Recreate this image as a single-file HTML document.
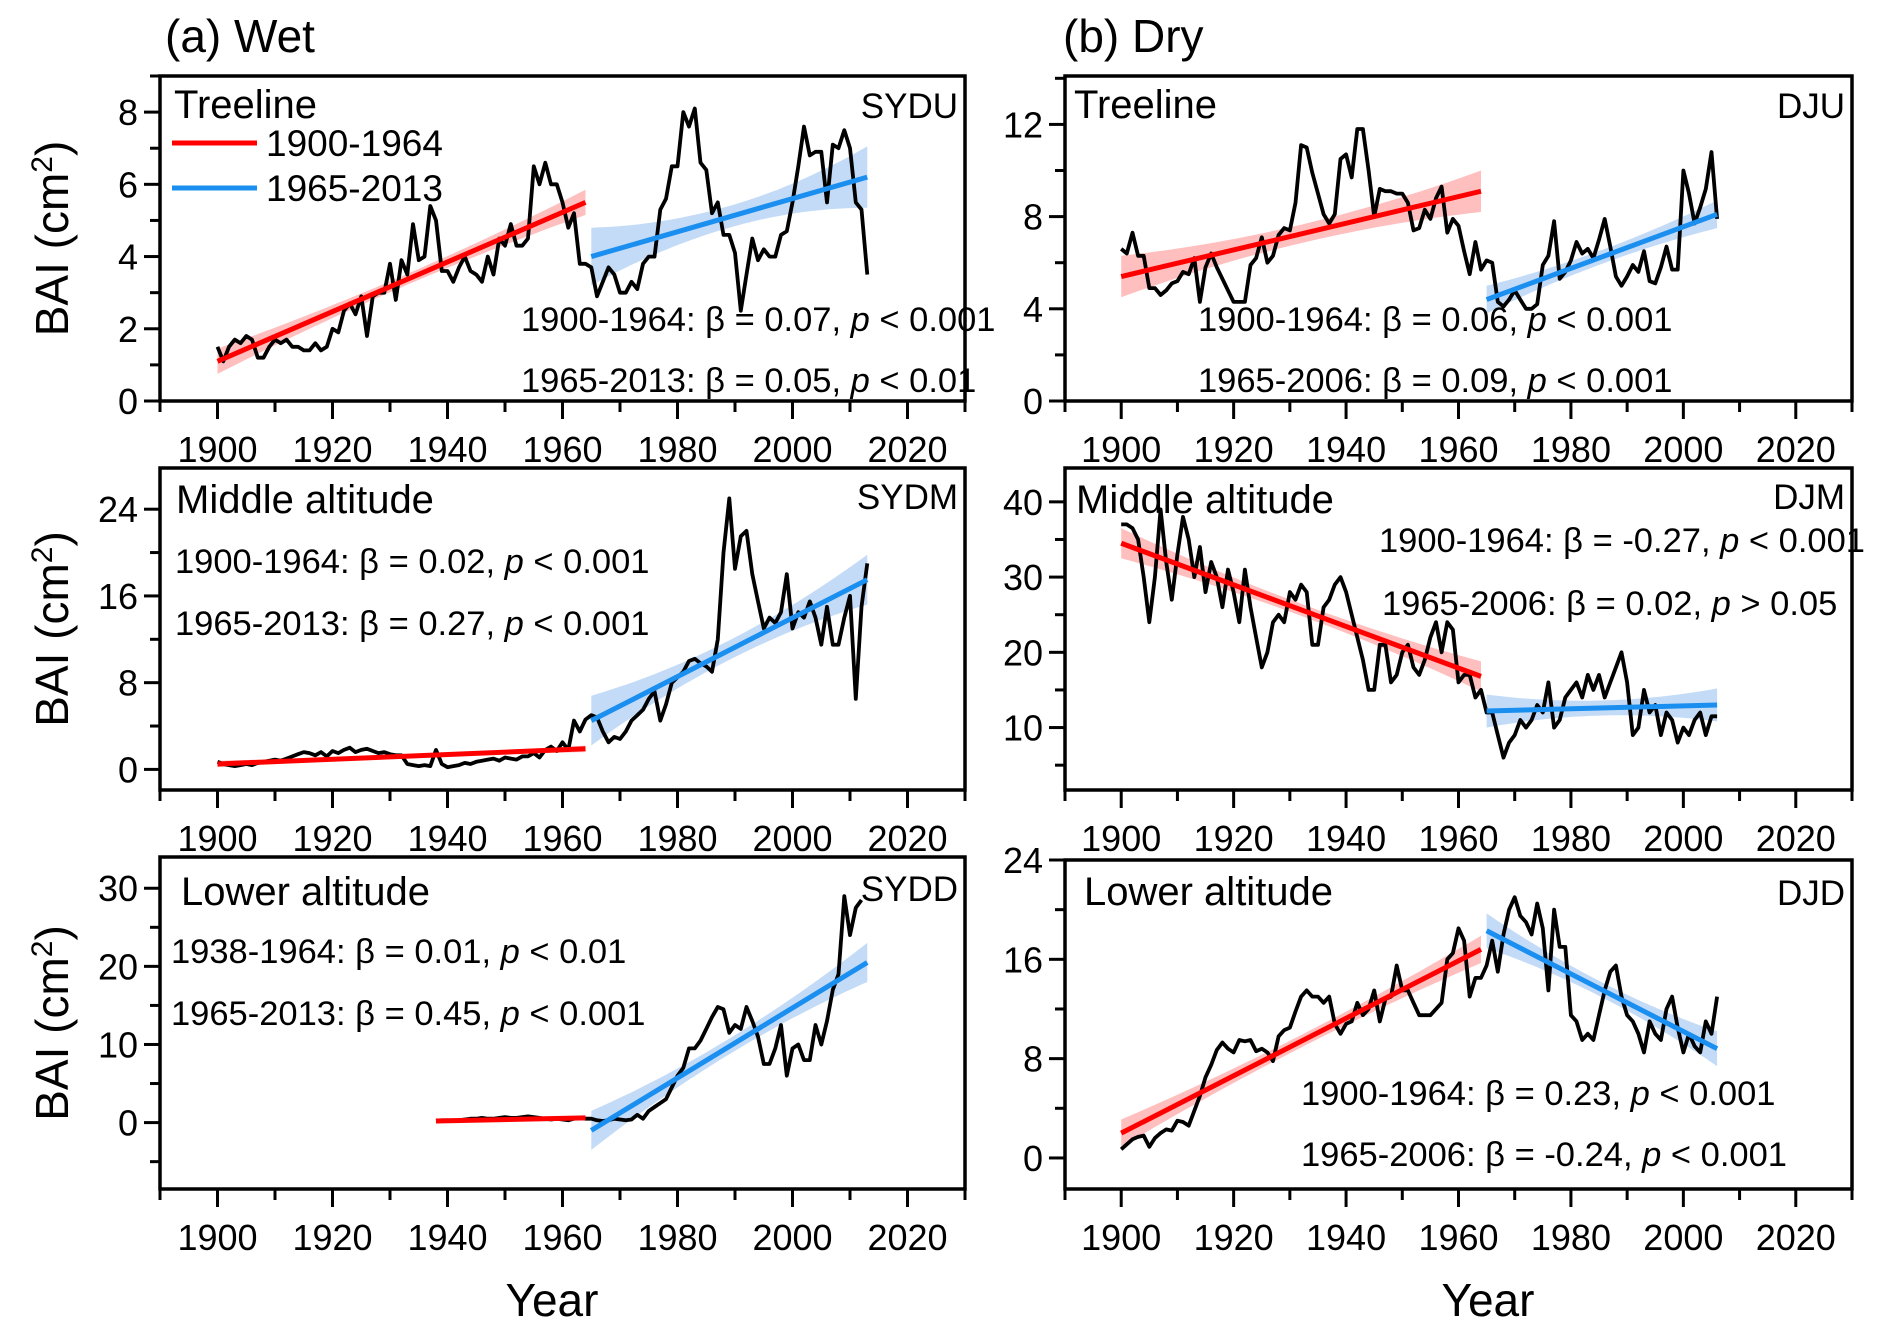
<!DOCTYPE html>
<html><head><meta charset="utf-8"><title>BAI chart</title>
<style>
html,body{margin:0;padding:0;background:#fff;}
svg{display:block;font-family:"Liberation Sans",Arial,sans-serif;}
</style></head>
<body>
<svg id="chart" width="1892" height="1335" viewBox="0 0 1892 1335" xmlns="http://www.w3.org/2000/svg"></svg>
<script>
// ---------- data ----------
const xTickLabels = [1900,1920,1940,1960,1980,2000,2020];
const a1Ticks = [0,2,4,6,8];
const a2Ticks = [0,8,16,24];
const a3Ticks = [0,10,20,30];
const b1Ticks = [0,4,8,12];
const b2Ticks = [10,20,30,40];
const b3Ticks = [0,8,16,24];

const a1Start = 1900;
const a1Vals = [1.5,1.1,1.5,1.7,1.6,1.8,1.7,1.2,1.2,1.5,1.7,1.6,1.7,1.5,1.5,1.4,1.4,1.6,1.4,1.5,2.0,1.9,2.5,2.7,2.4,2.9,1.8,2.9,3.0,3.0,3.8,2.8,3.9,3.5,4.9,3.9,4.0,5.4,5.0,3.6,3.6,3.3,3.7,4.0,3.6,3.5,3.3,4.0,3.5,4.5,4.3,4.9,4.3,4.3,4.5,6.5,6.0,6.6,6.0,6.0,5.5,4.8,5.2,3.8,3.8,3.7,2.9,3.3,3.7,3.5,3.0,3.0,3.3,3.1,3.8,4.0,4.0,5.3,5.6,6.5,6.5,8.0,7.6,8.1,6.6,6.4,5.2,5.5,4.6,4.6,4.1,2.5,3.5,4.5,3.9,4.2,4.0,4.0,4.6,4.7,5.5,6.5,7.6,6.8,6.9,6.9,5.5,7.1,7.0,7.5,7.0,5.5,5.3,3.5];
const a1Fit1Years = [1900,1964], a1Fit1Vals = [1.1,5.5], a1Fit1Ci = [0.35,0.15,0.35];
const a1Fit2Years = [1965,2013], a1Fit2Vals = [4.0,6.2], a1Fit2Ci = [0.8,0.3,0.85];

const b1Start = 1900;
const b1Vals = [6.6,6.4,7.3,6.3,6.3,4.9,4.9,4.6,4.8,5.1,5.2,5.6,5.5,6.2,4.3,5.8,6.4,5.8,5.3,4.8,4.3,4.3,4.3,5.9,6.2,7.1,6.0,6.3,7.2,7.5,7.4,8.6,11.1,11.0,9.9,9.0,8.1,7.7,8.1,10.5,10.7,9.7,11.8,11.8,10.0,8.0,9.2,9.1,9.1,9.0,9.0,8.6,7.4,7.5,8.3,7.9,8.8,9.3,7.3,7.9,7.6,6.5,5.5,6.9,5.7,6.1,6.0,4.3,4.1,4.4,4.8,4.4,4.0,4.0,4.2,5.9,6.3,7.8,5.3,5.6,6.1,6.9,6.4,6.6,6.2,7.0,7.9,6.7,5.4,5.0,5.4,5.9,5.6,6.5,5.2,5.1,5.8,6.7,5.7,5.7,10.0,9.0,7.7,8.4,9.2,10.8,7.9];
const b1Fit1Years = [1900,1964], b1Fit1Vals = [5.4,9.1], b1Fit1Ci = [0.9,0.4,0.9];
const b1Fit2Years = [1965,2006], b1Fit2Vals = [4.4,8.1], b1Fit2Ci = [0.6,0.3,0.6];

const a2Start = 1900;
const a2Vals = [0.7,0.5,0.4,0.3,0.4,0.5,0.4,0.6,0.7,0.8,0.9,0.8,1.0,1.2,1.4,1.6,1.5,1.3,1.6,1.2,1.7,1.5,1.8,2.0,1.6,1.8,1.9,1.7,1.5,1.6,1.4,1.3,1.3,0.5,0.4,0.3,0.4,0.3,1.8,0.5,0.2,0.3,0.4,0.6,0.5,0.7,0.8,0.9,1.0,0.8,1.1,1.0,0.9,1.2,1.2,1.5,1.1,1.8,2.1,1.7,2.5,1.8,4.5,3.5,4.6,5.0,4.8,3.5,2.5,3.0,2.8,3.5,4.5,5.0,5.5,6.5,7.2,4.5,6.0,8.0,8.5,9.0,10.0,10.2,9.8,9.5,9.0,12.0,20.0,25.0,18.5,21.5,22.0,18.0,15.5,13.0,14.0,13.5,14.5,18.0,13.0,14.5,14.0,15.5,14.0,11.5,15.0,11.5,11.5,14.0,16.0,6.5,15.0,19.0];
const a2Fit1Years = [1900,1964], a2Fit1Vals = [0.5,1.9], a2Fit1Ci = [0.3,0.15,0.3];
const a2Fit2Years = [1965,2013], a2Fit2Vals = [4.5,17.5], a2Fit2Ci = [2.3,0.9,2.3];

const b2Start = 1900;
const b2Vals = [37,37,36.5,35,30,24,30,39,32,27,33,38,35,30,34,28,32,30,26,31,28,24,31,26,22,18,20,24,25,24,28,27,29,28,21,21,26,27,29,30,28,25,22,19,15,15,21,21,16,17,20,21,18,17,19,22,24,20,24,23,16,17,17,14,15,12,12,9,6,8,9,11,10,11,13,12,16,10,11,14,15,16,14,17,15,17,14,16,18,20,16,9,10,15,12,13,9,12,11,8,10,9,11,12,9,11.5,11.5];
const b2Fit1Years = [1900,1964], b2Fit1Vals = [34.5,16.8], b2Fit1Ci = [2.0,0.8,2.0];
const b2Fit2Years = [1965,2006], b2Fit2Vals = [12.2,13.0], b2Fit2Ci = [2.2,1.0,2.2];

const a3Start = 1938;
const a3Vals = [0.2,0.3,0.3,0.2,0.3,0.4,0.5,0.5,0.6,0.5,0.5,0.6,0.7,0.6,0.6,0.7,0.8,0.7,0.6,0.5,0.4,0.5,0.4,0.3,0.5,0.6,0.5,0.5,0.3,0.2,0.3,0.5,0.4,0.3,0.4,1.0,0.5,1.5,2.0,2.5,3.0,4.5,6.0,7.0,9.5,9.5,10.5,12.0,13.5,14.8,14.5,11.5,12.5,12.0,14.8,13.0,11.0,7.5,7.5,9.5,12.5,6.0,9.5,10.0,8.0,8.0,12.5,10.0,13.0,17.0,19.0,29.0,24.0,27.5,28.5];
const a3Fit1Years = [1938,1964], a3Fit1Vals = [0.2,0.6], a3Fit1Ci = [0.3,0.15,0.3];
const a3Fit2Years = [1965,2013], a3Fit2Vals = [-1.0,20.5], a3Fit2Ci = [2.5,1.0,2.5];

const b3Start = 1900;
const b3Vals = [0.7,1.1,1.5,1.7,1.8,0.9,1.6,2.0,2.3,2.2,3.0,2.9,2.6,3.8,5.0,6.5,7.5,8.7,9.3,8.8,8.5,9.5,9.4,9.5,8.6,8.8,8.5,7.8,9.8,10.3,10.5,11.8,13.0,13.5,13.0,13.0,12.5,13.0,10.8,10.0,10.8,11.0,12.5,11.5,12.0,13.5,11.0,12.8,13.0,15.5,13.5,13.5,12.5,11.5,11.5,11.5,12.0,12.5,16.0,16.5,18.5,17.5,13.0,14.5,14.5,15.5,17.5,15.0,18.0,20.0,21.0,19.5,19.0,18.0,20.5,18.5,13.5,20.0,17.0,17.0,11.5,11.0,9.5,10.0,9.5,11.5,13.5,15.0,15.5,13.0,11.5,11.0,10.0,8.5,11.0,10.0,9.5,12.0,13.0,10.5,8.5,10.0,9.0,8.5,11.0,10.0,13.0];
const b3Fit1Years = [1900,1964], b3Fit1Vals = [2.0,16.8], b3Fit1Ci = [1.1,0.5,1.1];
const b3Fit2Years = [1965,2006], b3Fit2Vals = [18.3,8.8], b3Fit2Ci = [1.4,0.6,1.4];

// ---------- drawing ----------
const NS = "http://www.w3.org/2000/svg";
const svg = document.getElementById('chart');
function mk(tag, attrs, parent){
  const e = document.createElementNS(NS, tag);
  for (const k in attrs) e.setAttribute(k, attrs[k]);
  (parent||svg).appendChild(e);
  return e;
}
function txt(str, x, y, size, anchor, parent, name){
  const t = mk('text', {x:x, y:y, 'font-size':size, 'text-anchor':anchor||'start', fill:'#000'}, parent);
  
  
  t.textContent = str;
  return t;
}

function panel(cfg){
  const g = mk('g', {});
  
  
  const L=cfg.L, R=cfg.R, T=cfg.T, B=cfg.B;
  const sx = v => L + (v - 1890) / 140 * (R - L);
  const sy = v => B - (v - cfg.ymin) / (cfg.ymax - cfg.ymin) * (B - T);

  const clipId = 'clip-' + cfg.name;
  const cp = mk('clipPath', {id: clipId}, g);
  mk('rect', {x:L, y:T, width:R-L, height:B-T}, cp);
  const plot = mk('g', {'clip-path':'url(#'+clipId+')'}, g);

  function fit(years, vals, ci, color, band, nm){
    const n = 40, up=[], dn=[];
    for (let i=0;i<=n;i++){
      const t=i/n, yr=years[0]+(years[1]-years[0])*t, v=vals[0]+(vals[1]-vals[0])*t;
      const edge = t<0.5?ci[0]:ci[2];
      const h = ci[1] + (edge-ci[1])*Math.pow(2*t-1,2);
      up.push(sx(yr).toFixed(1)+','+sy(v+h).toFixed(1));
      dn.unshift(sx(yr).toFixed(1)+','+sy(v-h).toFixed(1));
    }
    const poly = mk('polygon', {points: up.concat(dn).join(' '), fill: band, 'fill-opacity':0.55, stroke:'none'}, plot);
    
    
    return {x1:sx(years[0]), y1:sy(vals[0]), x2:sx(years[1]), y2:sy(vals[1]), color:color, nm:nm};
  }
  const f1 = fit(cfg.f1y, cfg.f1v, cfg.f1c, '#ff0000', '#ff8a8a', 'fit-early');
  const f2 = fit(cfg.f2y, cfg.f2v, cfg.f2c, '#1a8ff0', '#94bdf0', 'fit-late');

  const pts = cfg.vals.map((v,i)=> sx(cfg.start+i).toFixed(1)+','+sy(v).toFixed(1)).join(' ');
  const pl = mk('polyline', {points:pts, fill:'none', stroke:'#000', 'stroke-width':3.8, 'stroke-linejoin':'round'}, plot);
  
  

  [f1,f2].forEach(f=>{
    const ln = mk('line', {x1:f.x1, y1:f.y1, x2:f.x2, y2:f.y2, stroke:f.color, 'stroke-width':5}, plot);
    
    
  });

  const fr = mk('rect', {x:L, y:T, width:R-L, height:B-T, fill:'none', stroke:'#000', 'stroke-width':3.5}, g);
  
  

  for (let yr=1890; yr<=2030; yr+=10){
    const major = (yr%20===0);
    mk('line', {x1:sx(yr), y1:B, x2:sx(yr), y2:B+(major?18:11), stroke:'#000', 'stroke-width':3}, g);
  }
  xTickLabels.forEach(v=> txt(String(v), sx(v), cfg.xlabY, 36, 'middle', g, 'x-tick-label'));

  const step = cfg.ticks[1]-cfg.ticks[0];
  for (let v=cfg.ticks[0]-step*2; v<=cfg.ymax+0.001; v+=step/2){
    if (v < cfg.ymin-0.001) continue;
    const major = cfg.ticks.some(t=>Math.abs(t-v)<1e-6);
    const y = sy(v);
    if (y > B+1 || y < T-1) continue;
    mk('line', {x1:L, y1:y, x2:L-(major?16:10), y2:y, stroke:'#000', 'stroke-width':3}, g);
  }
  cfg.ticks.forEach(v=> txt(String(v), L-22, sy(v)+13, 36, 'end', g, 'y-tick-label'));

  txt(cfg.title, cfg.titleX, cfg.titleY, 40, 'start', g, 'panel-title');
  txt(cfg.site, R-7, cfg.siteY, 35, 'end', g, 'site-code');
  cfg.ann.forEach(a=>{
    const t = txt('', a[0], a[1], 34.5, 'start', g, 'regression-annotation');
    const parts = a[2].split('|');
    const s1 = document.createElementNS(NS,'tspan'); s1.textContent = parts[0]; t.appendChild(s1);
    const s2 = document.createElementNS(NS,'tspan'); s2.setAttribute('font-style','italic'); s2.textContent='p'; t.appendChild(s2);
    const s3 = document.createElementNS(NS,'tspan'); s3.textContent = parts[1]; t.appendChild(s3);
  });
  if (cfg.ylab){
    const t = txt('', 68, (T+B)/2, 46, 'middle', g, 'y-axis-title');
    t.setAttribute('transform', 'rotate(-90 68 '+((T+B)/2)+')');
    const s1=document.createElementNS(NS,'tspan'); s1.textContent='BAI (cm'; t.appendChild(s1);
    const s2=document.createElementNS(NS,'tspan'); s2.setAttribute('font-size','30'); s2.setAttribute('dy','-16'); s2.textContent='2'; t.appendChild(s2);
    const s3=document.createElementNS(NS,'tspan'); s3.setAttribute('dy','16'); s3.textContent=')'; t.appendChild(s3);
  }
  return g;
}

const LL=160, LR=965, RL=1065, RR=1852;
panel({name:'panel-wet-treeline', L:LL,R:LR,T:76,B:401, ymin:0,ymax:9, ticks:a1Ticks, xlabY:462, start:a1Start, vals:a1Vals,
  f1y:a1Fit1Years,f1v:a1Fit1Vals,f1c:a1Fit1Ci,f2y:a1Fit2Years,f2v:a1Fit2Vals,f2c:a1Fit2Ci,
  title:'Treeline', titleX:174, titleY:118, site:'SYDU', siteY:118, ylab:true,
  ann:[[521,331,'1900-1964: β = 0.07, | < 0.001'],[521,392,'1965-2013: β = 0.05, | < 0.01']]});
panel({name:'panel-dry-treeline', L:RL,R:RR,T:76,B:401, ymin:0,ymax:14.1, ticks:b1Ticks, xlabY:462, start:b1Start, vals:b1Vals,
  f1y:b1Fit1Years,f1v:b1Fit1Vals,f1c:b1Fit1Ci,f2y:b1Fit2Years,f2v:b1Fit2Vals,f2c:b1Fit2Ci,
  title:'Treeline', titleX:1074, titleY:118, site:'DJU', siteY:118, ylab:false,
  ann:[[1198,331,'1900-1964: β = 0.06, | < 0.001'],[1198,392,'1965-2006: β = 0.09, | < 0.001']]});
panel({name:'panel-wet-middle', L:LL,R:LR,T:468,B:790, ymin:-1.9,ymax:27.8, ticks:a2Ticks, xlabY:851, start:a2Start, vals:a2Vals,
  f1y:a2Fit1Years,f1v:a2Fit1Vals,f1c:a2Fit1Ci,f2y:a2Fit2Years,f2v:a2Fit2Vals,f2c:a2Fit2Ci,
  title:'Middle altitude', titleX:176, titleY:513, site:'SYDM', siteY:509, ylab:true,
  ann:[[175,573,'1900-1964: β = 0.02, | < 0.001'],[175,635,'1965-2013: β = 0.27, | < 0.001']]});
panel({name:'panel-dry-middle', L:RL,R:RR,T:468,B:790, ymin:1.7,ymax:44.5, ticks:b2Ticks, xlabY:851, start:b2Start, vals:b2Vals,
  f1y:b2Fit1Years,f1v:b2Fit1Vals,f1c:b2Fit1Ci,f2y:b2Fit2Years,f2v:b2Fit2Vals,f2c:b2Fit2Ci,
  title:'Middle altitude', titleX:1076, titleY:513, site:'DJM', siteY:509, ylab:false,
  ann:[[1379,552,'1900-1964: β = -0.27, | < 0.001'],[1382,615,'1965-2006: β = 0.02, | > 0.05']]});
panel({name:'panel-wet-lower', L:LL,R:LR,T:857,B:1189, ymin:-8.5,ymax:34, ticks:a3Ticks, xlabY:1250, start:a3Start, vals:a3Vals,
  f1y:a3Fit1Years,f1v:a3Fit1Vals,f1c:a3Fit1Ci,f2y:a3Fit2Years,f2v:a3Fit2Vals,f2c:a3Fit2Ci,
  title:'Lower altitude', titleX:181, titleY:905, site:'SYDD', siteY:901, ylab:true,
  ann:[[171,963,'1938-1964: β = 0.01, | < 0.01'],[171,1025,'1965-2013: β = 0.45, | < 0.001']]});
panel({name:'panel-dry-lower', L:RL,R:RR,T:860,B:1189, ymin:-2.5,ymax:24, ticks:b3Ticks, xlabY:1250, start:b3Start, vals:b3Vals,
  f1y:b3Fit1Years,f1v:b3Fit1Vals,f1c:b3Fit1Ci,f2y:b3Fit2Years,f2v:b3Fit2Vals,f2c:b3Fit2Ci,
  title:'Lower altitude', titleX:1084, titleY:905, site:'DJD', siteY:905, ylab:false,
  ann:[[1301,1105,'1900-1964: β = 0.23, | < 0.001'],[1301,1166,'1965-2006: β = -0.24, | < 0.001']]});

txt('(a) Wet', 165, 52, 46, 'start', svg, 'column-title-wet');
txt('(b) Dry', 1063, 52, 46, 'start', svg, 'column-title-dry');
txt('Year', 552, 1316, 46, 'middle', svg, 'x-axis-title-wet');
txt('Year', 1488, 1316, 46, 'middle', svg, 'x-axis-title-dry');

const lg = mk('g', {});


const le1 = mk('line', {x1:172,y1:143,x2:257,y2:143,stroke:'#ff0000','stroke-width':5}, lg);


txt('1900-1964', 266, 156, 37, 'start', lg, 'legend-entry-early');
const le2 = mk('line', {x1:172,y1:188,x2:257,y2:188,stroke:'#1a8ff0','stroke-width':5}, lg);


txt('1965-2013', 266, 201, 37, 'start', lg, 'legend-entry-late');
</script>
</body></html>
